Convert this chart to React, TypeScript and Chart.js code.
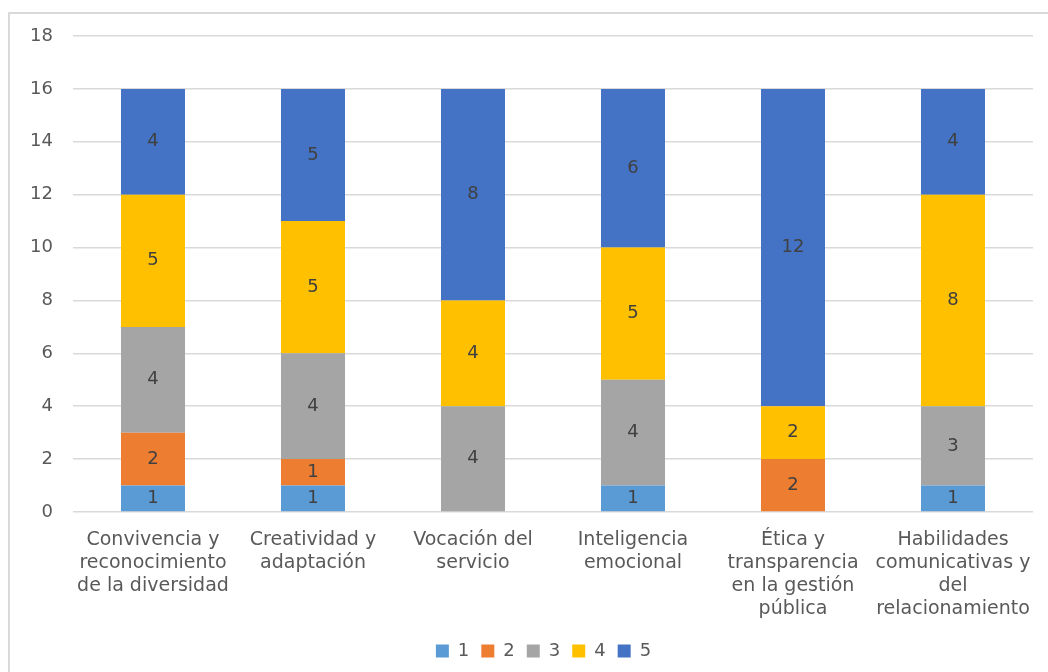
import React, { useEffect, useRef } from "react";
import { Chart, registerables } from "chart.js";

Chart.register(...registerables);

const categories: string[][] = [
  ["Convivencia y", "reconocimiento", "de la diversidad"],
  ["Creatividad y", "adaptación"],
  ["Vocación del", "servicio"],
  ["Inteligencia", "emocional"],
  ["Ética y", "transparencia", "en la gestión", "pública"],
  ["Habilidades", "comunicativas y", "del", "relacionamiento"],
];

const seriesNames = ["1", "2", "3", "4", "5"];
const series1 = [1, 1, 0, 1, 0, 1];
const series2 = [2, 1, 0, 0, 2, 0];
const series3 = [4, 4, 4, 4, 0, 3];
const series4 = [5, 5, 4, 5, 2, 8];
const series5 = [4, 5, 8, 6, 12, 4];
const seriesColors = ["#5B9BD5", "#ED7D31", "#A5A5A5", "#FFC000", "#4472C4"];
const yTicks = [0, 2, 4, 6, 8, 10, 12, 14, 16, 18];

const FONT = "'DejaVu Sans', 'Open Sans', sans-serif";

const labelPlugin = {
  id: "segLabels",
  afterLayout(chart: any) {
    if (chart.legend) {
      chart.legend.left += 27;
      chart.legend.right += 27;
    }
  },
  afterDatasetsDraw(chart: any) {
    const ctx = chart.ctx;
    ctx.save();
    ctx.font = `18px ${FONT}`;
    ctx.fillStyle = "#404040";
    ctx.textAlign = "center";
    ctx.textBaseline = "middle";
    chart.data.datasets.forEach((ds: any, di: number) => {
      const meta = chart.getDatasetMeta(di);
      meta.data.forEach((bar: any, i: number) => {
        const v = ds.data[i];
        if (!v) return;
        const y = (bar.y + bar.base) / 2;
        ctx.fillText(String(v), bar.x, y);
      });
    });
    ctx.restore();
  },
};

export default function App() {
  const ref = useRef<HTMLCanvasElement | null>(null);
  useEffect(() => {
    if (!ref.current) return;
    const all = [series1, series2, series3, series4, series5];
    const chart = new Chart(ref.current, {
      type: "bar",
      data: {
        labels: categories,
        datasets: all.map((d, i) => ({
          label: seriesNames[i],
          data: d,
          backgroundColor: seriesColors[i],
          borderWidth: 0,
          barPercentage: 0.4,
          categoryPercentage: 1,
        })),
      },
      options: {
        animation: false,
        responsive: true,
        maintainAspectRatio: false,
        layout: { padding: { top: 36, right: 15, bottom: 2, left: 0 } },
        plugins: {
          tooltip: { enabled: false },
          legend: {
            position: "bottom",
            labels: {
              boxWidth: 13,
              boxHeight: 13,
              padding: 12,
              color: "#595959",
              font: { family: FONT, size: 18 },
            },
          },
        },
        scales: {
          x: {
            stacked: true,
            grid: { display: false },
            border: { display: false },
            ticks: {
              color: "#595959",
              font: { family: FONT, size: 19, lineHeight: 1.22 },
              padding: 8,
              maxRotation: 0,
              autoSkip: false,
            },
            afterFit: (s: any) => {
              s.height = 118;
              s.paddingLeft = 0;
              s.paddingRight = 0;
            },
          },
          y: {
            stacked: true,
            min: 0,
            max: 18,
            afterBuildTicks: (s: any) => {
              s.ticks = yTicks.map((v) => ({ value: v }));
            },
            grid: { color: "#D9D9D9", lineWidth: 1.5, drawTicks: false },
            border: { display: false },
            ticks: {
              color: "#595959",
              font: { family: FONT, size: 18 },
              padding: 20,
            },
            afterFit: (s: any) => {
              s.width = 73;
            },
          },
        },
      },
      plugins: [labelPlugin],
    });
    return () => chart.destroy();
  }, []);
  return (
    <div style={{ position: "absolute", left: 0, top: 0, width: 1048, height: 672, background: "#fff", overflow: "hidden" }}>
      <div style={{ position: "absolute", left: 8, top: 12, width: 1100, height: 700, borderLeft: "2px solid #D9D9D9", borderTop: "2px solid #D9D9D9" }} />
      <div style={{ position: "absolute", left: 0, top: 0, width: 1048, height: 672 }}>
        <canvas ref={ref} />
      </div>
    </div>
  );
}
